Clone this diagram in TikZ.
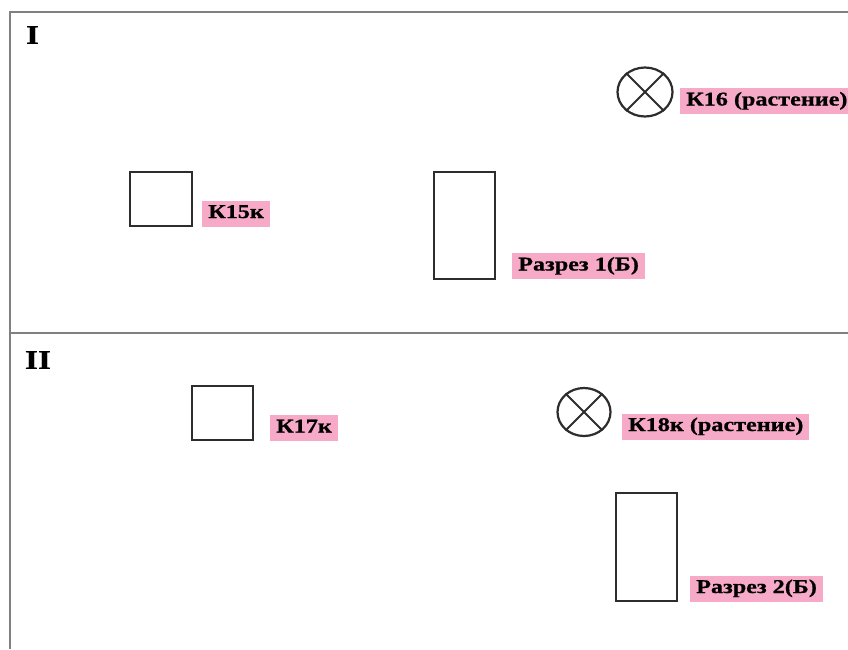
\documentclass[tikz,border=0pt]{standalone}
\usepackage{fontspec}
\setmainfont{Liberation Serif}[FakeStretch=1.24,
  BoldFeatures={FakeStretch=1.24, FakeBold=0.8}]
\usetikzlibrary{shapes.geometric}
\definecolor{tagpink}{RGB}{246,170,200}
\definecolor{framegray}{RGB}{128,128,128}
\definecolor{ink}{RGB}{45,45,45}
\begin{document}
\begin{tikzpicture}[x=1pt,y=-1pt,
  tag/.style={fill=tagpink, anchor=west, inner xsep=6pt, inner ysep=3.5pt,
    font=\fontsize{19.5}{21}\selectfont\bfseries, text height=14pt, text depth=5pt},
  section/.style={font=\fontsize{27}{29}\selectfont\bfseries, inner sep=0pt},
  pit/.style={draw=ink, line width=2.3pt, rectangle, inner sep=0pt},
  plant/.style={draw=ink, line width=2.2pt, ellipse, inner sep=0pt},
  frameline/.style={draw=framegray, line width=2pt}]
\useasboundingbox (0,0) rectangle (848,649);

% frame of the two sections
\draw[frameline] (848,12) -- (10,12) -- (10,649);
\draw[frameline] (10,333) -- (848,333);

% section I
\node[section] (secI) at (32.5,35) {I};
\node[pit, minimum width=62pt, minimum height=54pt] (k15) at (161,199) {};
\node[tag] (k15t) at (202,213.5) {К15к};
\node[pit, minimum width=61pt, minimum height=107pt] (cut1) at (464.5,225.5) {};
\node[tag] (cut1t) at (512,266) {Разрез 1(Б)};
\node[plant, minimum width=55pt, minimum height=49pt] (k16) at (645,92) {};
\draw[ink, line width=2pt] (k16.45) -- (k16.225) (k16.135) -- (k16.315);
\node[tag] (k16t) at (680,101) {К16 (растение)};

% section II
\node[section] (secII) at (38,360) {II};
\node[pit, minimum width=61pt, minimum height=54pt] (k17) at (222.5,413) {};
\node[tag] (k17t) at (270,428) {К17к};
\node[plant, minimum width=53pt, minimum height=48pt] (k18) at (584,412) {};
\draw[ink, line width=2pt] (k18.45) -- (k18.225) (k18.135) -- (k18.315);
\node[tag] (k18t) at (622,426.5) {К18к (растение)};
\node[pit, minimum width=61pt, minimum height=108pt] (cut2) at (646.5,547) {};
\node[tag] (cut2t) at (690,588.5) {Разрез 2(Б)};
\end{tikzpicture}
\end{document}
